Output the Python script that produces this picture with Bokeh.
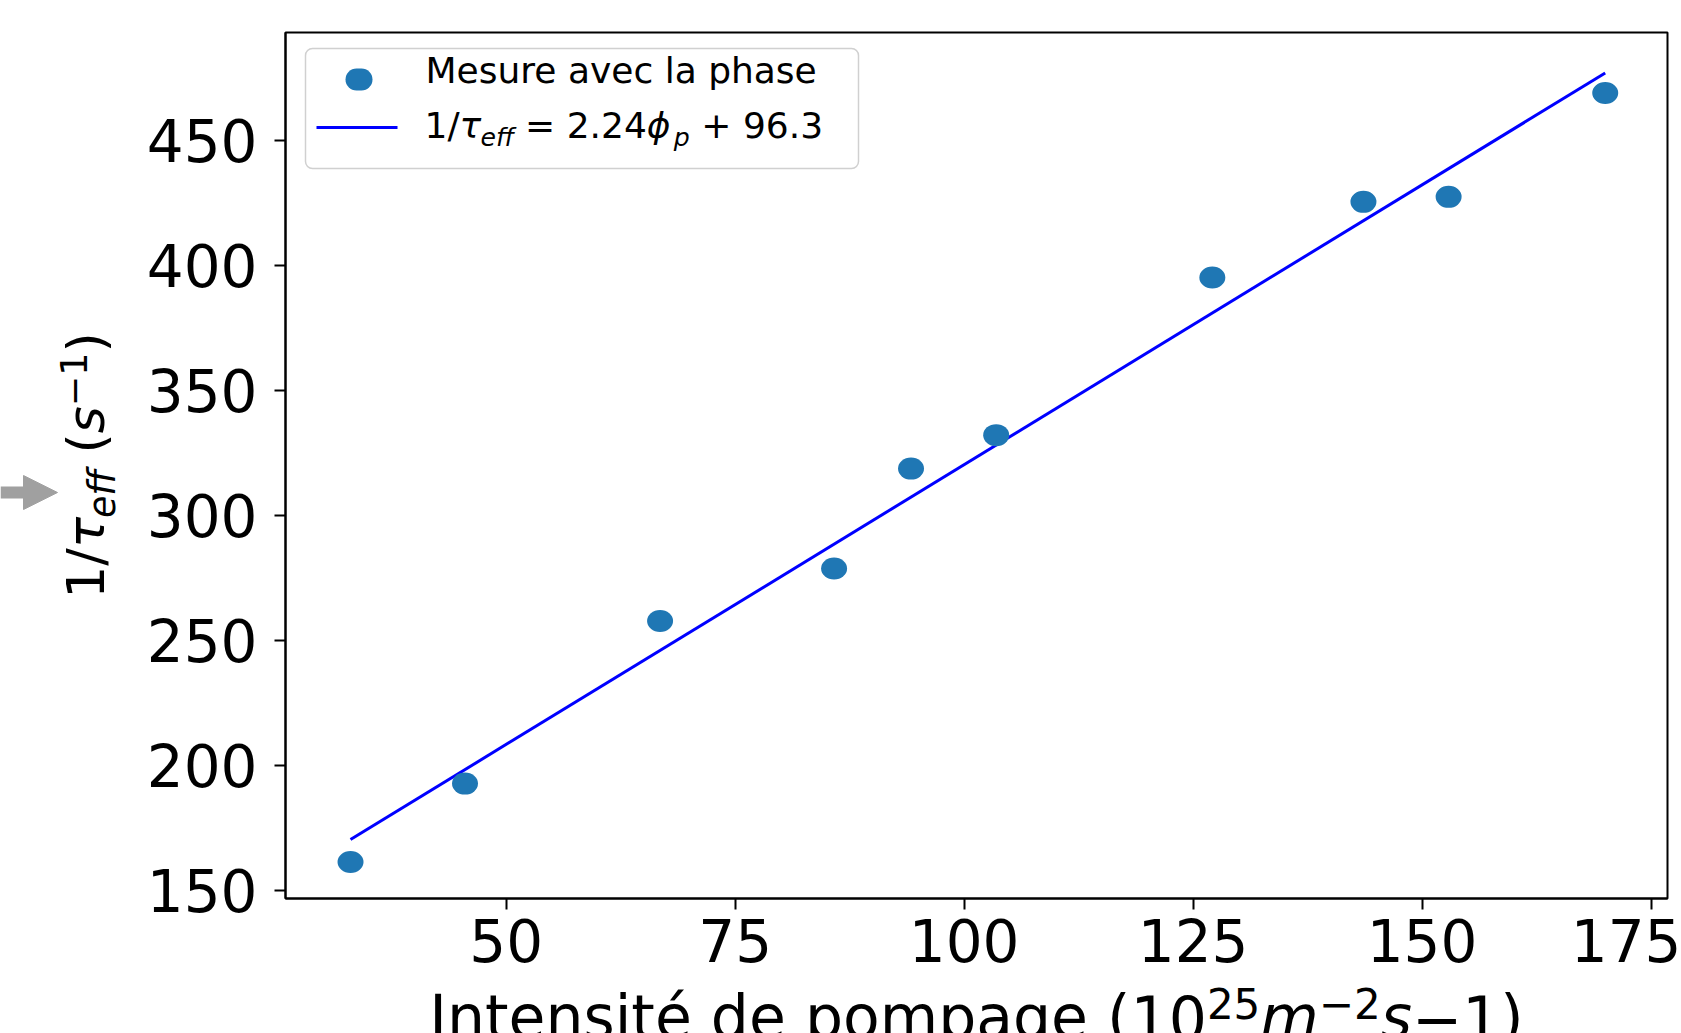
from math import pi
from bokeh.plotting import figure
from bokeh.models import (Range1d, FixedTicker, Label, BoxAnnotation, Arrow,
                          NormalHead, ColumnDataSource)
from bokeh.embed import file_html
from bokeh.resources import INLINE

# ---------------- data ----------------
phi_p = [33.0, 45.5, 66.8, 85.8, 94.2, 103.5, 127.1, 143.6, 152.9, 170.0]
inv_tau = [161.2, 192.6, 257.7, 278.7, 318.7, 332.1, 395.2, 425.5, 427.5, 469.1]
fit_x = [33.0, 170.0]
fit_y = [170.2, 477.1]
x_ticks = [50, 75, 100, 125, 150, 175]
y_ticks = [150, 200, 250, 300, 350, 400, 450]
x_limits = (25.9, 176.8)
y_limits = (146.6, 493.3)
series_label = "Mesure avec la phase"

# ---------------- layout ----------------
W, H = 1681, 1033
BOX_L, BOX_R, BOX_T, BOX_B = 285, 1667, 32, 898   # axes box in canvas pixels
FONT = "DejaVu Sans"
POINT_COLOR = "#1f77b4"
LINE_COLOR = "#0000ff"
BASE_CORR = 0.42   # empirical shift of Bokeh's alphabetic baseline (in em)

kx = (BOX_R - BOX_L) / (x_limits[1] - x_limits[0])
ky = (BOX_B - BOX_T) / (y_limits[1] - y_limits[0])
xr = Range1d(x_limits[0] - BOX_L / kx, x_limits[1] + (W - BOX_R) / kx)
yr = Range1d(y_limits[0] - (H - BOX_B) / ky, y_limits[1] + BOX_T / ky)


def sx(X):
    return X


def sy(Y):
    return H - Y


CW = {
    "0": .636, "1": .636, "2": .636, "3": .636, "4": .636, "5": .636, "6": .636,
    "7": .636, "8": .636, "9": .636, "/": .337, "(": .390, ")": .390, " ": .318,
    ".": .318, "=": .838, "+": .838, "−": .838, "e": .615, "f": .352, "s": .521,
    "m": .974, "p": .635, "τ": .58, "ϕ": .75, "I": .295, "n": .634, "t": .392,
    "i": .278, "é": .615, "d": .635, "o": .612, "a": .613, "g": .635, "M": .863,
    "u": .634, "r": .411, "v": .592, "c": .550, "l": .278, "h": .634,
}


def text_width(s, size):
    return sum(CW.get(c, 0.6) for c in s) * size


def compose(p, pieces, X0, Y0, F, angle=0.0, color="black"):
    adv = 0.0
    for txt, scale, style, shift in pieces:
        fs = F * scale
        lead = txt[:len(txt) - len(txt.lstrip(" "))]
        adv += text_width(lead, fs)
        body = txt.strip(" ")
        if body:
            off = shift * F + BASE_CORR * fs
            if angle == 0.0:
                X, Y = X0 + adv, Y0 - off
            else:
                X, Y = X0 - off, Y0 - adv
            p.add_layout(Label(x=sx(X), y=sy(Y), x_units="screen", y_units="screen",
                               text=body, angle=angle, text_font=FONT,
                               text_font_size=f"{fs:.1f}px", text_font_style=style,
                               text_align="left", text_baseline="alphabetic",
                               text_color=color))
        adv += text_width(txt.lstrip(" "), fs)
    return adv


def screen_box(l, r, t, b, **kw):
    return BoxAnnotation(left=sx(l), right=sx(r), top=sy(t), bottom=sy(b),
                         left_units="screen", right_units="screen",
                         top_units="screen", bottom_units="screen", **kw)


p = figure(width=W, height=H, output_backend="svg", toolbar_location=None,
           x_range=xr, y_range=yr, min_border=0)
p.grid.visible = False
p.outline_line_color = None
p.background_fill_color = "white"
p.border_fill_color = "white"

for ax in (p.xaxis[0], p.yaxis[0]):
    ax.axis_line_color = "black"
    ax.axis_line_width = 2
    ax.major_tick_line_color = "black"
    ax.major_tick_line_width = 2
    ax.major_tick_out = 11
    ax.major_tick_in = 0
    ax.minor_tick_line_color = None
    ax.major_label_text_font = FONT
    ax.major_label_text_font_size = "58px"
    ax.major_label_text_color = "black"
p.xaxis.ticker = FixedTicker(ticks=x_ticks)
p.yaxis.ticker = FixedTicker(ticks=y_ticks)
p.xaxis.fixed_location = y_limits[0]
p.yaxis.fixed_location = x_limits[0]
p.xaxis.bounds = x_limits
p.yaxis.bounds = y_limits
p.xaxis.major_label_standoff = 9
p.yaxis.major_label_standoff = 17

# axes box
p.add_layout(BoxAnnotation(left=x_limits[0], right=x_limits[1], bottom=y_limits[0],
                           top=y_limits[1], fill_alpha=0.0, line_color="black",
                           line_alpha=1.0, line_width=2))

src = ColumnDataSource(dict(x=phi_p, y=inv_tau))
p.line(fit_x, fit_y, line_color=LINE_COLOR, line_width=3)
p.ellipse(x="x", y="y", width=26, height=22, width_units="screen",
          height_units="screen", source=src, fill_color=POINT_COLOR,
          line_color=None)

# ---------------- legend (drawn by hand for the math label) ----------------
p.add_layout(screen_box(305, 858, 48, 168, fill_color="white", fill_alpha=0.8,
                        line_color="#d0d0d0", line_alpha=1.0, line_width=1.5,
                        border_radius=7))
p.add_layout(screen_box(345, 372, 68, 90, fill_color=POINT_COLOR, fill_alpha=1.0,
                        line_color=None, border_radius=11))
p.add_layout(screen_box(316, 397, 125.5, 128.5, fill_color=LINE_COLOR, fill_alpha=1.0,
                        line_color=None))

SUB, SUP = -0.2, 0.36
LF = 36
compose(p, [(series_label, 1, "normal", 0)], 425, 85, LF)
compose(p, [("1/", 1, "normal", 0), ("τ", 1, "italic", 0), ("eff", .7, "italic", SUB),
            (" = 2.24", 1, "normal", 0), ("ϕ", 1, "italic", 0), ("p", .7, "italic", SUB),
            (" + 96.3", 1, "normal", 0)], 424, 140, LF)

# ---------------- axis labels ----------------
xl_pieces = [("Intensité de pompage (", 1, "normal", 0), ("10", 1, "normal", 0),
             ("25", .7, "normal", SUP), ("m", 1, "italic", 0), ("−2", .7, "normal", SUP),
             ("s", 1, "italic", 0), ("−1", 1, "normal", 0), (")", 1, "normal", 0)]
XF = 60
xl_w = sum(text_width(t, XF * s) for t, s, _, _ in xl_pieces)
compose(p, xl_pieces, (BOX_L + BOX_R) / 2 - xl_w / 2, 1042, XF)

yl_pieces = [("1/", 1, "normal", 0), ("τ", 1, "italic", 0), ("eff", .7, "italic", SUB),
             (" (", 1, "normal", 0), ("s", 1, "italic", 0),
             ("−1", .7, "normal", SUP), (")", 1, "normal", 0)]
YF = 52
yl_w = sum(text_width(t, YF * s) for t, s, _, _ in yl_pieces)
compose(p, yl_pieces, 107, (BOX_T + BOX_B) / 2 + yl_w / 2, YF, angle=pi / 2)

# ---------------- grey arrow at the left edge ----------------
p.add_layout(screen_box(0, 26, 486, 498, fill_color="#a0a0a0", fill_alpha=1.0,
                        line_color=None))
p.add_layout(Arrow(end=NormalHead(size=34, fill_color="#a0a0a0", line_color="#a0a0a0"),
                   x_start=sx(15), y_start=sy(492), x_end=sx(57), y_end=sy(492),
                   start_units="screen", end_units="screen", line_alpha=0.0))

open("out.html", "w").write(file_html(p, INLINE))
